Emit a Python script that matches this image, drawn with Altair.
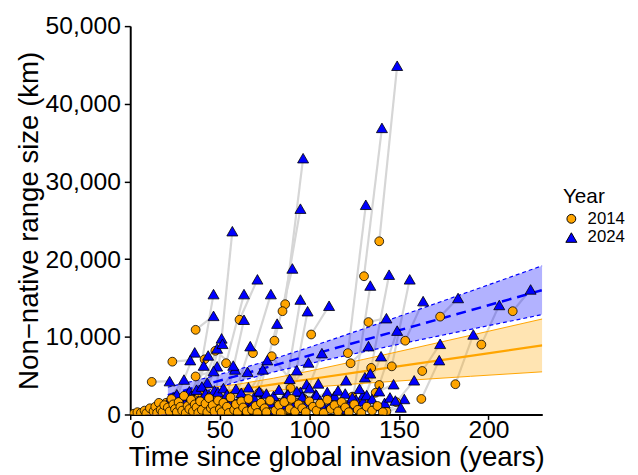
import altair as alt
import pandas as pd

# Paired species observations: time since global invasion (years) and non-native range size (km)
time_2014 = [139, 130.5, 86.5, 85, 121.5, 47, 80.5, 61, 36.5, 53.5, 68.5, 85, 101, 36.5, 53.5, 72, 89, 124, 134.5, 146,
             153.5, 133, 139, 123, 97, 89.5, 83, 79, 130, 121, 124, 137, 143, 148.5, 163, 162.5, 173, 181.5, 196, 213.5,
             57, 66.5, 64, 55.5, 48.5, 47.5, 38.5, 41, 41.5, 38.5, 31, 33.5, 26, 23.5, 20, 12, 33,
             36.5, 95, 88.5, 85, 93.5, 110.5, 120, 116, 62, 77.5,
             2, 4, 6, 8, 9, 11, 13, 14, 15, 16, 17, 18, 19, 21, 22, 23, 24, 25, 26, 27, 28, 29, 30, 31, 32, 33, 34, 35,
             36, 37, 38, 39, 40, 42, 43, 44, 45, 46, 47, 49, 50, 51, 52, 54, 55, 56, 58, 59, 60, 62, 63, 65, 66, 68, 70,
             71, 73, 75, 76, 78, 81, 83, 84, 86, 89, 90, 92, 94, 96, 98, 100, 102, 104, 106, 108, 110, 112, 114, 116,
             118, 120, 122, 125, 127, 129, 132, 135, 138, 141]
range_2014 = [22300, 17800, 14200, 13300, 7900, 600, 9500, 12200, 10900, 6600, 7900, 800, 10300, 2200, 1800, 2800, 1200,
              1500, 6000, 6200, 9500, 11900, 3800, 6600, 2000, 3400, 1500, 7500, 1800, 1200, 2300, 2800, 400, 1600, 5600,
              2000, 12600, 3900, 9000, 13300,
              1500, 1000, 2000, 1500, 2500, 8200, 2700, 2000, 7100, 1500, 1300, 1000, 2200, 6800, 1500, 4200, 1800,
              4900, 1200, 600, 300, 1500, 2000, 800, 300, 1100, 1300,
              100, 300, 200, 500, 150, 800, 400, 1000, 200, 1500, 600, 300, 1200, 900, 400, 2000, 1300, 700, 300, 1600,
              1000, 500, 2400, 200, 1100, 700, 1900, 400, 1300, 900, 200, 1700, 600, 1400, 300, 2100, 800, 1200, 400,
              1800, 700, 300, 1500, 1000, 200, 2200, 600, 1300, 300, 1700, 900, 400, 2000, 600, 1100, 200, 1500, 800,
              300, 1800, 500, 1200, 200, 1600, 700, 2000, 400, 1300, 800, 300, 1700, 1000, 500, 1400, 200, 1900, 700,
              1200, 400, 1600, 900, 300, 1300, 600, 200, 1000, 500, 1100, 300]
time_2024 = [149, 140.5, 96.5, 95, 131.5, 57, 90.5, 71, 46.5, 63.5, 78.5, 95, 111, 46.5, 63.5, 82, 99, 134, 144.5, 156,
             163.5, 143, 149, 133, 107, 99.5, 93, 89, 140, 131, 134, 147, 153, 158.5, 173, 172.5, 183, 191.5, 206, 223.5,
             67, 76.5, 74, 65.5, 58.5, 57.5, 48.5, 51, 51.5, 48.5, 41, 43.5, 36, 33.5, 30, 22, 43,
             46.5, 105, 98.5, 95, 103.5, 120.5, 130, 126, 72, 87.5,
             12, 14, 16, 18, 19, 21, 23, 24, 25, 26, 27, 28, 29, 31, 32, 33, 34, 35, 36, 37, 38, 39, 40, 41, 42, 43, 44,
             45, 46, 47, 48, 49, 50, 52, 53, 54, 55, 56, 57, 59, 60, 61, 62, 64, 65, 66, 68, 69, 70, 72, 73, 75, 76, 78,
             80, 81, 83, 85, 86, 88, 91, 93, 94, 96, 99, 100, 102, 104, 106, 108, 110, 112, 114, 116, 118, 120, 122, 124,
             126, 128, 130, 132, 135, 137, 139, 142, 145, 148, 151]
range_2024 = [44900, 36900, 33000, 26500, 27000, 23600, 18800, 17400, 12700, 15500, 15500, 14800, 14000, 15500, 12200,
              11700, 13300, 16600, 18000, 17400, 14600, 12400, 10800, 8800, 7900, 6700, 5700, 4600, 7500, 4800, 5300,
              3900, 2000, 4400, 9100, 7000, 15000, 10300, 14100, 16100,
              8800, 7000, 5800, 5500, 5800, 6300, 8500, 9800, 9100, 6200, 6300, 7600, 8000, 7000, 4500, 4300, 4100,
              5600, 4000, 3900, 2900, 2600, 4400, 2500, 1900, 2900, 2500,
              400, 800, 500, 1200, 300, 1500, 900, 2200, 700, 2600, 1100, 1900, 2000, 1600, 1300, 3000, 2400, 1000, 600,
              3200, 1800, 1400, 3600, 800, 2700, 1500, 2500, 2100, 1700, 3100, 500, 2900, 1200, 3400, 900, 2600, 1900,
              2300, 1000, 3300, 1400, 2000, 2800, 1600, 700, 3500, 1300, 2200, 900, 3000, 1800, 1100, 2700, 1500, 2400,
              600, 3200, 1300, 2100, 2600, 1000, 3000, 800, 2300, 1600, 3400, 1200, 2500, 1800, 900, 2900, 1500, 2400,
              3100, 700, 2700, 1300, 2200, 1000, 3300, 1700, 2500, 2000, 1100, 3000, 1500, 2200, 1800, 900]

# Linear fits with confidence bands
fit_x_2014 = [30, 40, 60, 80, 100, 130, 160, 190, 230]
fit_2014 = [2195, 2530, 3200, 3870, 4540, 5545, 6550, 7555, 8895]
lo_2014 = [1283, 1730, 2502, 3070, 3491, 4008, 4472, 4917, 5495]
hi_2014 = [3107, 3330, 3898, 4670, 5589, 7082, 8628, 10193, 12295]
fit_x_2024 = [21, 30, 40, 60, 80, 100, 130, 160, 190, 230]
fit_2024 = [2485, 3070, 3720, 5010, 6310, 7600, 9540, 11480, 13420, 16010]
lo_2024 = [1420, 2130, 2875, 4245, 5465, 6550, 8070, 9530, 10965, 12865]
hi_2024 = [3520, 4010, 4565, 5775, 7155, 8650, 11010, 13430, 15875, 19155]

years = ["2014", "2024"]
ORANGE = "#FFA500"
BLUE = "#0000FF"
FONT = "Liberation Sans"
XT = "Time since global invasion (years)"
YT = "Non\u2212native range size (km)"

pairs = pd.DataFrame({"t14": time_2014, "r14": range_2014, "t24": time_2024, "r24": range_2024})
rows = []
for i in range(len(time_2014)):
    rows.append({"sp": i, "year": "2014", "t": time_2014[i], "r": range_2014[i]})
    rows.append({"sp": i, "year": "2024", "t": time_2024[i], "r": range_2024[i]})
pts = pd.DataFrame(rows)
fits14 = pd.DataFrame({"x": fit_x_2014, "f": fit_2014, "lo": lo_2014, "hi": hi_2014})
fits24 = pd.DataFrame({"x": fit_x_2024, "f": fit_2024, "lo": lo_2024, "hi": hi_2024})

xs = alt.Scale(domain=[0, 230], nice=False, zero=False)
ys = alt.Scale(domain=[0, 50000], nice=False)
xax = alt.Axis(values=[0, 50, 100, 150, 200], tickSize=5, labelPadding=-2, titlePadding=2)
yax = alt.Axis(values=[0, 10000, 20000, 30000, 40000, 50000], format=",.0f", tickSize=6, labelPadding=4,
               titlePadding=2)


def X(f):
    return alt.X(f, type="quantitative", scale=xs, axis=xax, title=XT)


def Y(f):
    return alt.Y(f, type="quantitative", scale=ys, axis=yax, title=YT)


segments = alt.Chart(pairs).mark_rule(color="#d6d6d6", strokeWidth=2.2, clip=True).encode(
    x=X("t14"), y=Y("r14"), x2="t24", y2="r24")

b14 = alt.Chart(fits14)
b24 = alt.Chart(fits24)
band14 = b14.mark_area(color=ORANGE, opacity=0.3, clip=True).encode(x=X("x"), y=Y("lo"), y2="hi")
band24 = b24.mark_area(color=BLUE, opacity=0.3, clip=True).encode(x=X("x"), y=Y("lo"), y2="hi")
lo14 = b14.mark_line(color=ORANGE, strokeWidth=1, clip=True).encode(x=X("x"), y=Y("lo"))
hi14 = b14.mark_line(color=ORANGE, strokeWidth=1, clip=True).encode(x=X("x"), y=Y("hi"))
lo24 = b24.mark_line(color=BLUE, strokeWidth=1.2, strokeDash=[4, 3], clip=True).encode(x=X("x"), y=Y("lo"))
hi24 = b24.mark_line(color=BLUE, strokeWidth=1.2, strokeDash=[4, 3], clip=True).encode(x=X("x"), y=Y("hi"))
f14 = b14.mark_line(color=ORANGE, strokeWidth=2.2, clip=True).encode(x=X("x"), y=Y("f"))
f24 = b24.mark_line(color=BLUE, strokeWidth=2.5, strokeDash=[10, 6], clip=True).encode(x=X("x"), y=Y("f"))

leg = alt.Legend(title="Year", orient="none", legendX=439, legendY=162, titleFontSize=21, labelFontSize=17,
                 titleFont=FONT, labelFont=FONT, titleFontWeight="normal", symbolSize=140,
                 symbolStrokeColor="black", symbolStrokeWidth=1, titleColor="black", labelColor="black",
                 titlePadding=4, rowPadding=1, labelOffset=8)
points = alt.Chart(pts).mark_point(filled=True, stroke="black", strokeWidth=0.8, opacity=1, clip=True).encode(
    x=X("t"), y=Y("r"),
    color=alt.Color("year:N", scale=alt.Scale(domain=years, range=[ORANGE, BLUE]), legend=leg),
    shape=alt.Shape("year:N", scale=alt.Scale(domain=years, range=["circle", "triangle-up"]), legend=leg),
    size=alt.Size("year:N", scale=alt.Scale(domain=years, range=[80, 125]), legend=None),
)

chart = alt.layer(segments, band14, band24, lo14, hi14, lo24, hi24, f14, f24, points).properties(
    width=418, height=394, padding={"left": 7, "top": 3, "right": 5, "bottom": 0}
).configure_view(stroke=None).configure_axis(
    grid=False, domainColor="black", domainWidth=2, tickColor="black", tickWidth=1.5,
    labelColor="black", titleColor="black", labelFont=FONT, titleFont=FONT, labelFontSize=25,
    titleFontSize=28, titleFontWeight="normal"
)

chart.save("out.html", embed_options={"renderer": "svg", "actions": False})
